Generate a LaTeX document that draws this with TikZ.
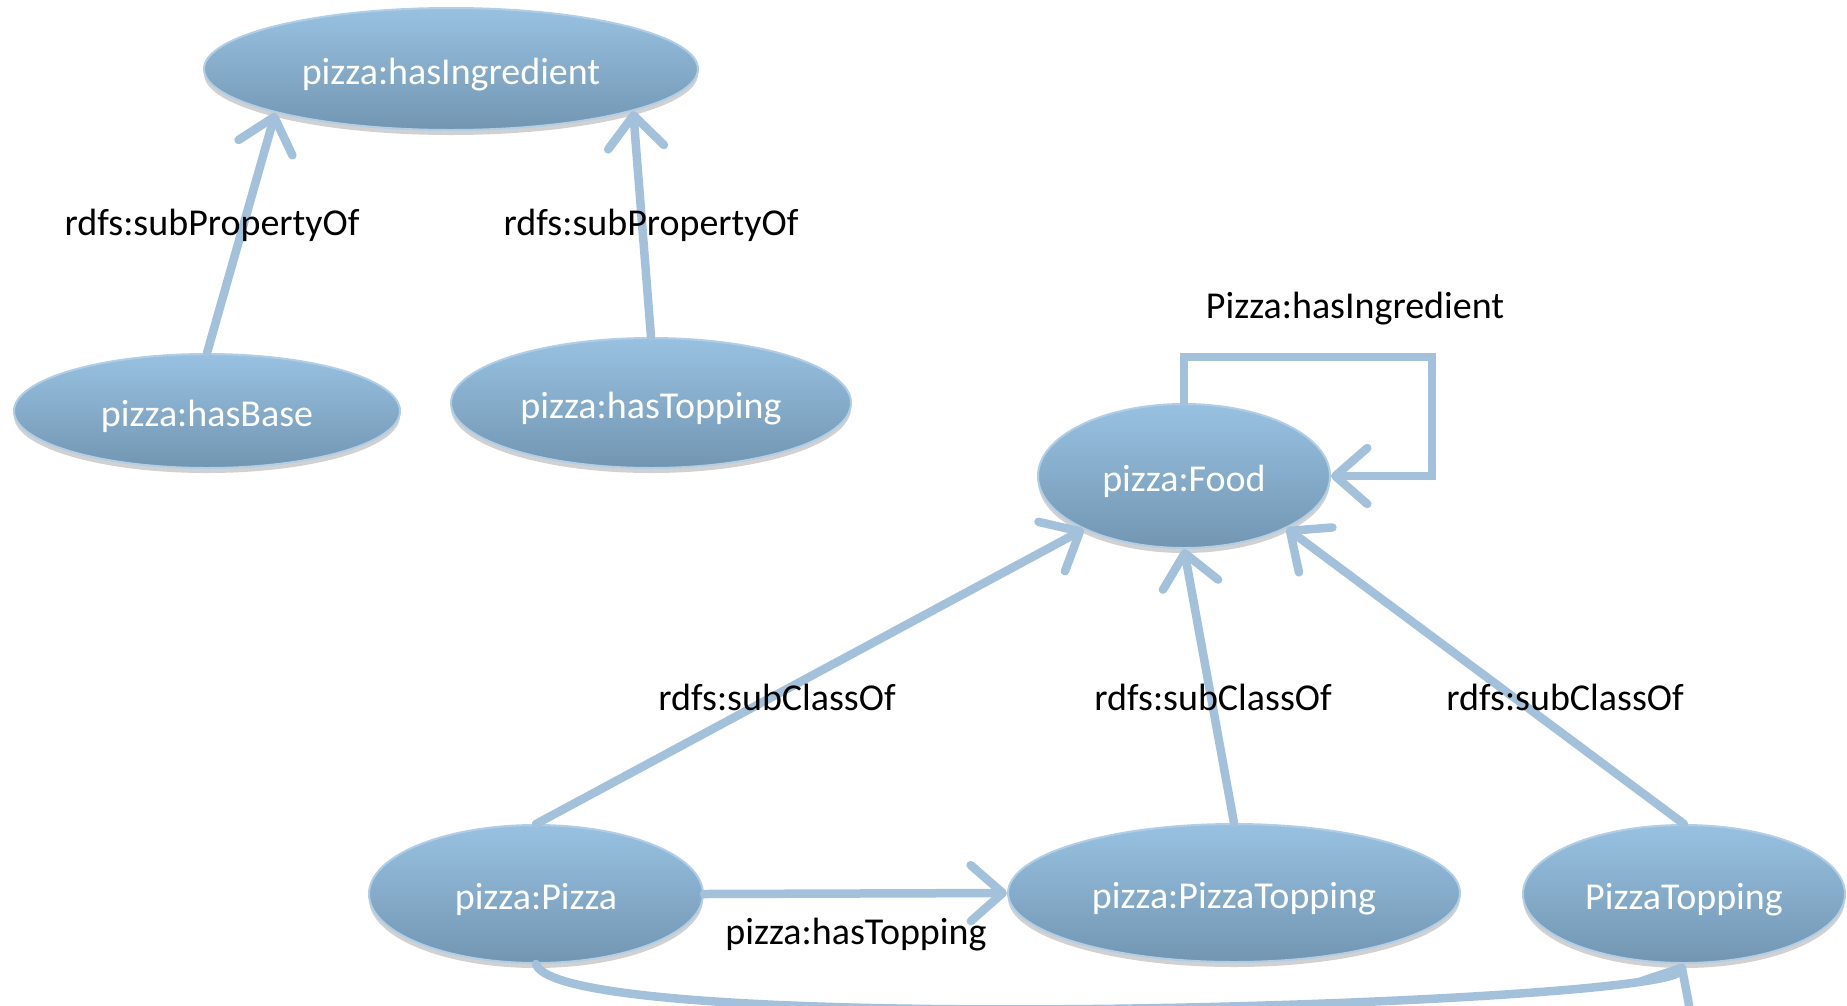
\documentclass[tikz,border=0pt]{standalone}
\usepackage{fontspec}
\setmainfont{Carlito}
\usetikzlibrary{shapes.geometric,arrows.meta,shadows}
\definecolor{elltop}{RGB}{152,193,225}
\definecolor{ellbot}{RGB}{114,150,178}
\definecolor{ellrim}{RGB}{178,206,230}
\definecolor{arrowblue}{RGB}{163,193,219}
\tikzset{
  ell/.style={ellipse, inner sep=0pt, draw=ellrim, line width=2pt,
    top color=elltop, bottom color=ellbot, text=white,
    text height=30pt, text depth=0pt,
    font=\fontsize{38}{44}\selectfont,
    drop shadow={shadow xshift=0pt, shadow yshift=-5pt, fill=black, opacity=0.18}},
  lbl/.style={text=black, font=\fontsize{38}{44}\selectfont, inner sep=0pt},
  link/.style={draw=arrowblue, line width=8.5pt, line cap=round, line join=miter,
    -{Straight Barb[length=32pt, width=56pt, round]}}
}
\begin{document}
\begin{tikzpicture}[x=1pt, y=-1pt]
  \useasboundingbox (0,0) rectangle (1847,1005);

  % property hierarchy
  \node[ell, minimum width=494pt, minimum height=122pt] (ing)  at (451,69)  {pizza:hasIngredient};
  \node[ell, minimum width=386pt, minimum height=114pt] (base) at (207,411) {pizza:hasBase};
  \node[ell, minimum width=400pt, minimum height=130pt] (top)  at (651,403) {pizza:hasTopping};

  % class hierarchy
  \node[ell, minimum width=292pt, minimum height=144pt] (food)  at (1184,476) {pizza:Food};
  \node[ell, minimum width=334pt, minimum height=138pt] (pizza) at (536,894)  {pizza:Pizza};
  \node[ell, minimum width=452pt, minimum height=138pt] (ptop)  at (1234,893) {pizza:PizzaTopping};
  \node[ell, minimum width=322pt, minimum height=138pt] (ptop2) at (1684,894) {PizzaTopping};

  % connectors
  \draw[link] (base.north) -- (ing.194);
  \draw[link] (top.north) -- (ing.-13);

  \coordinate (loopc) at (1432,357);
  \draw[link] (food.north) |- (loopc) |- (food.east);

  \draw[link] (pizza.north) -- (food.208);
  \draw[link] (ptop.north) -- (food.south);
  \draw[link] (ptop2.north) -- (food.-27);
  \draw[link] (pizza.east) -- (ptop.west);
  \draw[link] (pizza.south) .. controls (560,1040) and (1660,1005) .. (ptop2.south);

  % labels
  \node[lbl] (l1) at (212,225)  {rdfs:subPropertyOf};
  \node[lbl] (l2) at (651,225)  {rdfs:subPropertyOf};
  \node[lbl] (l3) at (1355,309) {Pizza:hasIngredient};
  \node[lbl] (l4) at (777,697)  {rdfs:subClassOf};
  \node[lbl] (l5) at (1213,697) {rdfs:subClassOf};
  \node[lbl] (l6) at (1565,697) {rdfs:subClassOf};
  \node[lbl] (l7) at (856,935)  {pizza:hasTopping};
\end{tikzpicture}
\end{document}
